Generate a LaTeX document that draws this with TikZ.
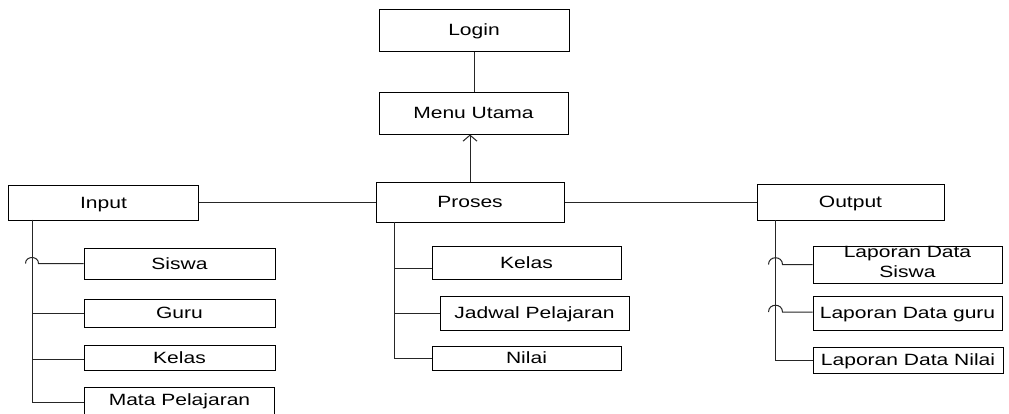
\documentclass[tikz,border=0pt]{standalone}
\usepackage{fontspec}
\setmainfont{Liberation Sans}
\usepackage{graphicx}
\usetikzlibrary{arrows.meta}
\newcommand\widetxt[1]{\scalebox{1.29}[1]{#1}}
\tikzset{
  box/.style={draw=black, line width=1pt, fill=white, inner sep=0pt,
    font=\fontsize{16.3}{17}\selectfont},
  one/.style={box, text height=11.7pt, text depth=0pt},
  conn/.style={draw=black!85, line width=1pt},
}
\begin{document}
\begin{tikzpicture}[x=1pt,y=-1pt]
\useasboundingbox (0,0) rectangle (1009,413);
\clip (0,0) rectangle (1009,413);
\fill[white] (0,0) rectangle (1009,413);
% top
\node[one, minimum width=190pt, minimum height=42pt] (login) at (474,30) {\widetxt{Login}};
\node[one, minimum width=189pt, minimum height=42pt] (menu) at (473.5,113) {\widetxt{Menu Utama}};
% main row
\node[one, minimum width=190pt, minimum height=35pt] (input) at (103.5,202.5) {\widetxt{Input}};
\node[one, minimum width=188pt, minimum height=40pt] (proses) at (470,202) {\widetxt{Proses}};
\node[one, minimum width=187pt, minimum height=36pt] (output) at (850.5,202) {\widetxt{Output}};
% input children
\node[one, minimum width=191pt, minimum height=31pt] (siswa) at (179.5,263.5) {\widetxt{Siswa}};
\node[one, minimum width=191pt, minimum height=28pt] (guru) at (179.5,313) {\widetxt{Guru}};
\node[one, minimum width=191pt, minimum height=25pt] (kelasI) at (179.5,357.5) {\widetxt{Kelas}};
\node[box, minimum width=190pt, minimum height=30pt, text height=11.7pt, text depth=0pt, anchor=west] (mata) at (84,402) {\raisebox{2pt}{\widetxt{Mata Pelajaran}}};
% proses children
\node[one, minimum width=189pt, minimum height=33pt] (kelasP) at (526.5,262.5) {\widetxt{Kelas}};
\node[one, minimum width=189pt, minimum height=34pt] (jadwal) at (534.5,313) {\widetxt{Jadwal Pelajaran}};
\node[one, minimum width=189pt, minimum height=24pt] (nilai) at (526.5,358) {\widetxt{Nilai}};
% output children
\node[box, minimum width=189pt, minimum height=33pt] (lds) at (907.5,264.5) {\raisebox{-1pt}{\widetxt{\begin{tabular}{@{}c@{}}Laporan Data\\[3pt]Siswa\end{tabular}}}};
\node[one, minimum width=189pt, minimum height=34pt] (ldg) at (907.5,313) {\widetxt{Laporan Data guru}};
\node[one, minimum width=190pt, minimum height=26pt] (ldn) at (908,360) {\widetxt{Laporan Data Nilai}};
% trunk tops
\coordinate (iT) at (32,219.5);
\coordinate (pT) at (394,222);
\coordinate (oT) at (775.5,220);
% connectors
\draw[conn] (login.south) -- (login.south |- menu.north);
\draw[conn, -{Straight Barb[length=6pt,width=14pt]}] (proses.north) -- (proses.north |- menu.south);
\draw[conn] (input.east) -- (input.east -| proses.west);
\draw[conn] (proses.east) -- (proses.east -| output.west);
% input tree
\draw[conn] (iT) |- (mata.west);
\draw[conn] (siswa.west) -- ([xshift=6.5pt]siswa.west -| iT)
  .. controls +(0,-8) and +(0,-8) .. ([xshift=-6.5pt]siswa.west -| iT);
\draw[conn] (guru.west) -- (guru.west -| iT);
\draw[conn] ([yshift=-1.5pt]kelasI.west) -- ([yshift=-1.5pt]kelasI.west -| iT);
% proses tree
\draw[conn] (pT) |- (nilai.west);
\draw[conn] ([yshift=-5.5pt]kelasP.west) -- ([yshift=-5.5pt]kelasP.west -| pT);
\draw[conn] (jadwal.west) -- (jadwal.west -| pT);
% output tree
\draw[conn] (oT) |- (ldn.west);
\draw[conn] (lds.west) -- ([xshift=7pt]lds.west -| oT)
  .. controls +(0,-9) and +(0,-9) .. ([xshift=-7pt]lds.west -| oT);
\draw[conn] ([yshift=1pt]ldg.west) -- ([xshift=7pt,yshift=1pt]ldg.west -| oT)
  .. controls +(0,-9) and +(0,-9) .. ([xshift=-7pt,yshift=1pt]ldg.west -| oT);
\end{tikzpicture}
\end{document}
